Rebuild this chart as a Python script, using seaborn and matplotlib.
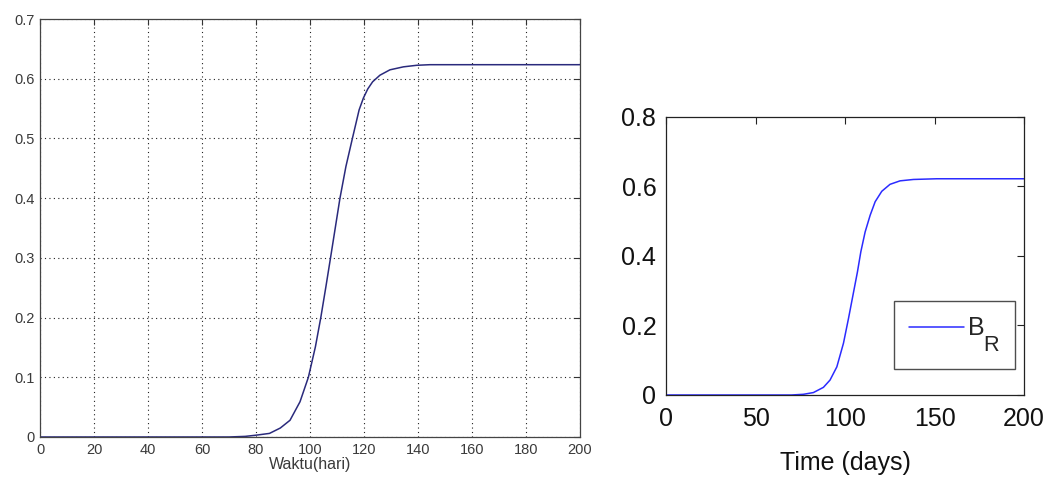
import matplotlib
matplotlib.use("Agg")
import matplotlib.pyplot as plt
import seaborn as sns
import pandas as pd
from matplotlib.ticker import FormatStrFormatter

# ---- data ----
left_days = [0, 70, 76, 80, 85, 89, 92.6, 96.3, 99.4, 102, 104.0, 105.9, 107.6,
             111.1, 113.3, 115.7, 118.2, 119.8, 121.4, 123.2, 125.9, 129.6,
             134.6, 139.5, 144.4, 200]
left_vals = [0, 0, 0.001, 0.003, 0.006, 0.015, 0.028, 0.059, 0.1, 0.151, 0.2,
             0.252, 0.3, 0.4, 0.453, 0.5, 0.548, 0.568, 0.583, 0.595, 0.606,
             0.615, 0.620, 0.6226, 0.6236, 0.6236]

right_days = [0, 70, 76.7, 82.3, 87.9, 91.6, 95.4, 99.1, 101.9, 106.9, 108.8,
              111.2, 114.0, 116.8, 120.5, 125.1, 130.7, 138.2, 151.2, 200]
right_vals = [0, 0, 0.002, 0.007, 0.022, 0.043, 0.081, 0.149, 0.22, 0.354, 0.412,
              0.469, 0.517, 0.556, 0.586, 0.606, 0.616, 0.620, 0.622, 0.622]

left_xticks = [0, 20, 40, 60, 80, 100, 120, 140, 160, 180, 200]
left_yticks = [0, 0.1, 0.2, 0.3, 0.4, 0.5, 0.6, 0.7]
right_xticks = [0, 50, 100, 150, 200]
right_yticks = [0, 0.2, 0.4, 0.6, 0.8]

left_xlabel = "Waktu(hari)"
right_xlabel = "Time (days)"
legend_label = r"B$_\mathregular{R}$"

sns.set_style("white")
plt.rcParams["font.family"] = ["Liberation Sans", "DejaVu Sans"]
plt.rcParams["mathtext.fontset"] = "custom"
plt.rcParams["mathtext.rm"] = "Liberation Sans"

# MATLAB-like subscript: larger and lower
try:
    from matplotlib import _mathtext as _mt
    _mt.SHRINK_FACTOR = 0.87
    _mt.FontConstantsBase.sub1 = 1.15
except Exception:
    pass

fig = plt.figure(figsize=(10.64, 4.82), dpi=100)
fig.patch.set_facecolor("white")

# ---- left panel ----
axL = fig.add_axes([0.0376, 0.0934, 0.5075, 0.867])
dfL = pd.DataFrame({"t": left_days, "v": left_vals})
sns.lineplot(data=dfL, x="t", y="v", ax=axL, color="#2a2a7c", linewidth=1.1)
axL.set_xlim(0, 200)
axL.set_ylim(0, 0.7)
axL.set_xticks(left_xticks)
axL.set_yticks(left_yticks)
axL.yaxis.set_major_formatter(FormatStrFormatter("%g"))
axL.grid(True, linestyle=(0, (1, 3)), color="#222222", linewidth=0.8)
axL.tick_params(direction="in", top=True, right=True, length=4, width=0.8,
                labelsize=10.5, labelcolor="#3a3a3a", color="#333333", pad=4)
for s in axL.spines.values():
    s.set_color("#444444")
    s.set_linewidth(0.9)
axL.set_xlabel(left_xlabel, fontsize=11.5, color="#3a3a3a", labelpad=0)
axL.set_ylabel("")

# ---- right panel ----
axR = fig.add_axes([0.626, 0.1805, 0.3365, 0.577])
dfR = pd.DataFrame({"t": right_days, "v": right_vals})
sns.lineplot(data=dfR, x="t", y="v", ax=axR, color="#2b2bff", linewidth=1.1,
             label=legend_label)
axR.set_xlim(0, 200)
axR.set_ylim(0, 0.8)
axR.set_xticks(right_xticks)
axR.set_yticks(right_yticks)
axR.yaxis.set_major_formatter(FormatStrFormatter("%g"))
axR.tick_params(direction="in", top=True, right=True, length=5, width=0.8,
                labelsize=18, labelcolor="#111111", color="#222222", pad=7)
axR.tick_params(axis="x", pad=9)
for s in axR.spines.values():
    s.set_color("#222222")
    s.set_linewidth(0.9)
axR.set_xlabel(right_xlabel, fontsize=18, color="#111111", labelpad=14)
axR.set_ylabel("")
leg = axR.legend(loc="lower right", bbox_to_anchor=(0.975, 0.094), fontsize=18,
                 frameon=True, fancybox=False, handlelength=2.2,
                 handletextpad=0.1, borderpad=0.6, borderaxespad=0.0)
leg.get_frame().set_edgecolor("#222222")
leg.get_frame().set_linewidth(1.0)

fig.savefig("out.png", dpi=100, facecolor="white")
